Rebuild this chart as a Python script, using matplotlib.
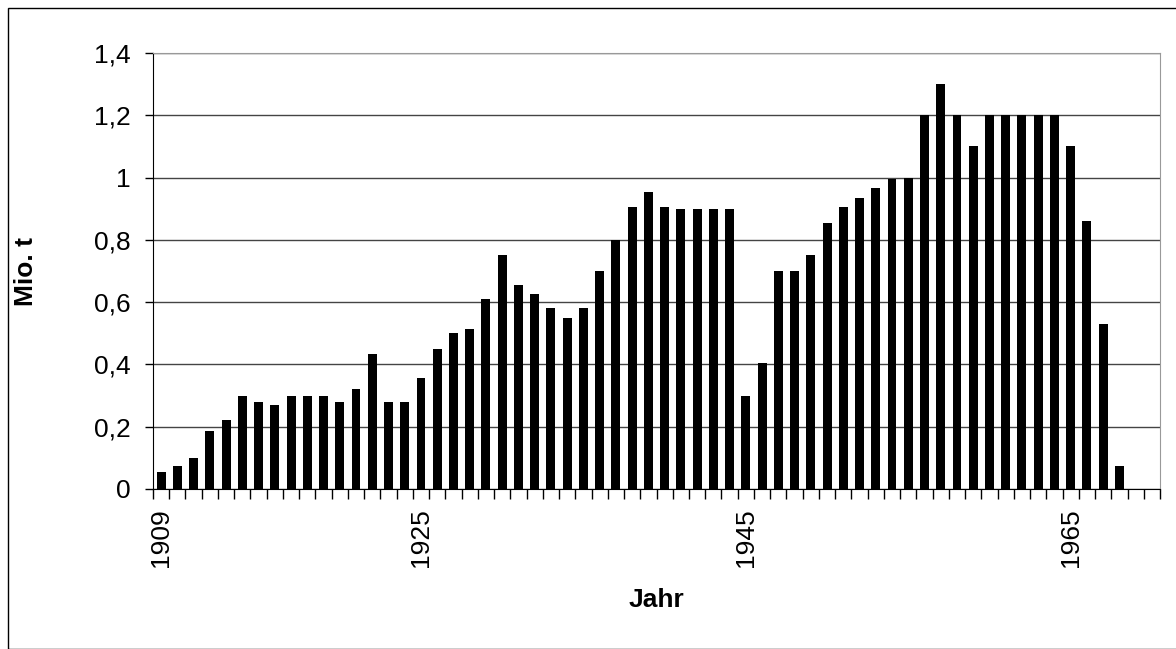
import numpy as np
import matplotlib.pyplot as plt
from matplotlib.patches import Rectangle

years = list(range(1909, 1971))
values = [0.055, 0.075, 0.1, 0.185, 0.22, 0.3, 0.28, 0.27, 0.3, 0.3,
          0.3, 0.28, 0.32, 0.435, 0.28, 0.28, 0.355, 0.45, 0.5, 0.515,
          0.61, 0.75, 0.655, 0.625, 0.58, 0.55, 0.58, 0.7, 0.8, 0.905,
          0.955, 0.905, 0.9, 0.9, 0.9, 0.9, 0.3, 0.405, 0.7, 0.7,
          0.75, 0.855, 0.905, 0.935, 0.965, 0.995, 1.0, 1.2, 1.3, 1.2,
          1.1, 1.2, 1.2, 1.2, 1.2, 1.2, 1.1, 0.86, 0.53, 0.075]
label_years = [1909, 1925, 1945, 1965]
yticks = [0, 0.2, 0.4, 0.6, 0.8, 1.0, 1.2, 1.4]
ytick_labels = ["0", "0,2", "0,4", "0,6", "0,8", "1", "1,2", "1,4"]

plt.rcParams['font.family'] = ['Liberation Sans', 'DejaVu Sans']
fig = plt.figure(figsize=(11.76, 6.49), dpi=100)
ax = fig.add_axes([153/1176, 1 - 489/649, (1160-153)/1176, (489-53)/649])

x = np.arange(len(values))
ax.bar(x, values, width=0.55, color="black", zorder=3)

ax.set_xlim(-0.5, len(years) - 0.5)
ax.set_ylim(0, 1.4)
ax.set_yticks(yticks)
ax.set_yticklabels(ytick_labels, fontsize=19)
ax.yaxis.grid(True, color="#444444", lw=1, zorder=0)

ax.set_xticks(np.arange(len(years) + 1) - 0.5)
ax.set_xticklabels([])
ax.tick_params(axis="x", length=7, width=1, direction="out")
ax.tick_params(axis="y", length=6, width=1, direction="out", pad=10)
for yr in label_years:
    ax.text(years.index(yr), -0.045, str(yr), rotation=90, ha="center", va="top",
            fontsize=19, transform=ax.get_xaxis_transform())

for s in ["top", "right"]:
    ax.spines[s].set_color("#999999")
ax.spines["left"].set_color("black")
ax.spines["bottom"].set_color("black")

ax.set_ylabel("Mio. t", fontsize=19, fontweight="bold", labelpad=40)
fig.text((153 + 1160) / 2 / 1176, 1 - 600/649, "Jahr", ha="center", va="center",
         fontsize=19, fontweight="bold")

fig.patches.append(Rectangle((8/1176, 0), 1180/1176, 641/649, transform=fig.transFigure,
                             fill=False, edgecolor="black", lw=1))

fig.savefig("out.png", dpi=100)
